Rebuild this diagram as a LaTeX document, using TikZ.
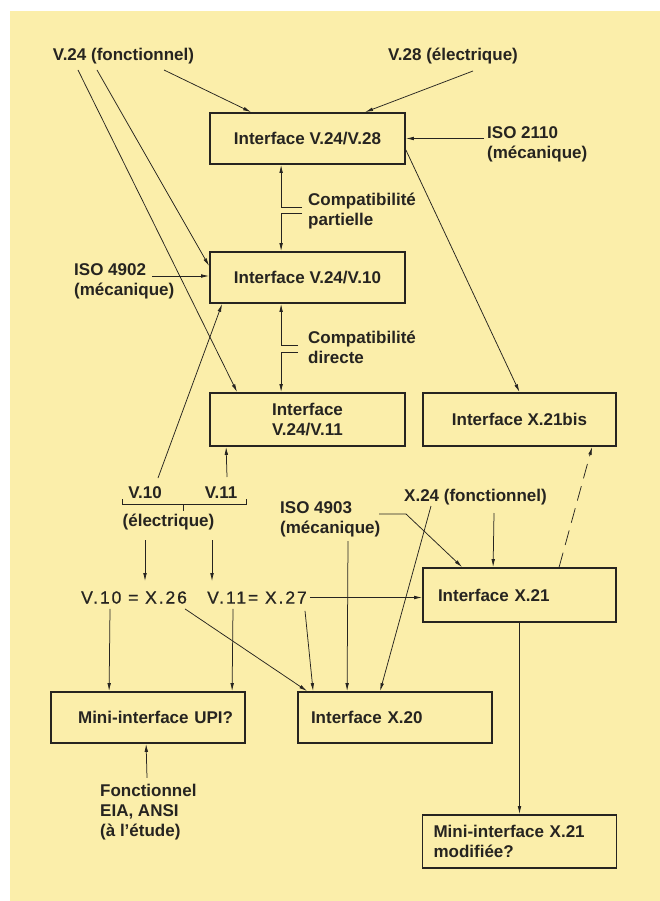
\documentclass[tikz,border=0pt]{standalone}
\usepackage{fontspec}
\setmainfont{Liberation Sans}
\newfontfamily\eqfont[LetterSpace=11,FakeBold=0.7]{Liberation Sans}
\usepackage{xcolor}
\usetikzlibrary{arrows.meta,positioning,calc}
\definecolor{paper}{RGB}{251,238,170}
\definecolor{ink}{RGB}{38,36,32}

\begin{document}
\begin{tikzpicture}[x=1pt,y=-1pt,color=ink,
  font=\fontsize{17}{20}\selectfont\bfseries,
  box/.style={draw,line width=1.8pt,minimum width=195pt,minimum height=51pt,inner sep=0pt,align=center},
  lbl/.style={inner sep=0pt,align=left},
  eqlbl/.style={inner sep=0pt,anchor=west,font=\eqfont\fontsize{17.5}{20}\selectfont},
  arr/.style={line width=0.75pt,-{Latex[length=8pt,width=3.6pt]}},
  lin/.style={line width=0.75pt}]
\useasboundingbox (0,0) rectangle (660,901);
\fill[paper] (10,11) rectangle (660,901);

\node[box] (b2428) at (307.5,138.5) {Interface V.24/V.28};
\node[box] (b2410) at (307.5,277.5) {Interface V.24/V.10};
\node[box,minimum height=53pt] (b2411) at (307.5,419.5) {Interface\\V.24/V.11};
\node[box,minimum width=193pt,minimum height=53pt] (bx21bis) at (519.5,419.5) {Interface X.21bis};
\node[box,minimum width=193pt,minimum height=54pt,text width=163pt,align=left] (bx21) at (519.5,595) {Interface X.21};
\node[box,minimum width=194pt,text width=168pt,align=left] (bx20) at (395,717.5) {Interface X.20};
\node[box,minimum width=194pt,text width=170pt,align=right] (bupi) at (148,717.5) {Mini-interface UPI?};
\node[box,minimum width=194pt,minimum height=53pt,text width=172pt,align=left] (bmini) at (519.5,841.5) {Mini-interface X.21\\modifiée?};

\node[lbl] (v24f) at (123.5,56) {V.24 (fonctionnel)};
\node[lbl] (v28e) at (453,56) {V.28 (électrique)};
\node[lbl,anchor=west] (iso2110) at (487,144) {ISO 2110\\(mécanique)};
\node[lbl,anchor=west] (compat1) at (308,211) {Compatibilité\\partielle};
\node[lbl,anchor=west] (iso4902) at (74,281) {ISO 4902\\(mécanique)};
\node[lbl,anchor=west] (compat2) at (308,347) {Compatibilité\\directe};
\node[lbl] (v10) at (145,493) {V.10};
\node[lbl] (v11) at (221,493) {V.11};
\node[lbl] (elec) at (168.5,522) {(électrique)};
\node[eqlbl] (eq1) at (81,597.5) {V.10 = X.26};
\node[eqlbl] (eq2) at (207,597.5) {V.11= X.27};
\node[lbl] (x24f) at (475.5,497) {X.24 (fonctionnel)};
\node[lbl,anchor=west] (iso4903) at (280,519) {ISO 4903\\(mécanique)};
\node[lbl,anchor=west] (fonct) at (100,812) {Fonctionnel\\EIA, ANSI\\(à l’étude)};

\draw[arr] ($(v24f)+(40.5,14)$) -- ($(b2428.north west)+(42,0)$);
\draw[arr] ($(v28e)+(20,15)$) -- ($(b2428.north west)+(156,0)$);
\draw[arr] ($(iso2110.west)+(-3,-5.5)$) -- (b2428.east);
\draw[arr] ($(v24f)+(-45.5,14)$) -- ($(b2411.north west)+(28,0)$);
\draw[arr] ($(v24f)+(-26.5,14)$) -- ($(b2410.west)+(0,-11.5)$);
\draw[arr] ($(b2428.east)+(0,11.5)$) -- (bx21bis.north);
\draw[arr] ($(compat1.west)+(-6,-4)$) -| ($(b2428.south west)+(72,0)$);
\draw[arr] ($(compat1.west)+(-6,2)$) -| ($(b2410.north west)+(72,0)$);
\draw[arr] ($(compat2.west)+(-10,-2)$) -| ($(b2410.south west)+(72,0)$);
\draw[arr] ($(compat2.west)+(-10,5)$) -| ($(b2411.north west)+(72,0)$);
\draw[arr] ($(iso4902.west)+(78,-5)$) -- ($(b2410.west)+(0,-1.5)$);
\draw[arr] ($(v10)+(13,-15)$) -- ($(b2410.south west)+(13,0)$);
\draw[arr] ($(v11)+(6,-16)$) -- ($(b2411.south west)+(17,0)$);
\draw[arr,dash pattern=on 15pt off 8pt] ($(bx21.north west)+(137,0)$) -- ($(bx21bis.south west)+(170,0)$);
\draw[lin] ($(v10)+(-23,6)$) |- ($(v11)+(25,11)$) -- ($(v11)+(25,6)$);
\draw[lin] ($(v10)!0.5!(v11)+(0,11)$) -- ($(v10)!0.5!(v11)+(0,18)$);
\draw[arr] ($(elec)+(-23.5,18)$) -- ($(eq1.north west)+(64,-10)$);
\draw[arr] ($(elec)+(43.5,18)$) -- ($(eq2.north west)+(5,-10)$);
\draw[arr] ($(eq2.east)+(3,0)$) -- (bx21.west |- eq2.east);
\draw[arr] ($(eq1.south west)+(29,5)$) -- ($(bupi.north west)+(59,0)$);
\draw[arr] ($(eq2.south west)+(26,5)$) -- ($(bupi.north west)+(182,0)$);
\draw[arr] ($(eq1.south west)+(104,5)$) -- ($(bx20.north west)+(10,0)$);
\draw[arr] ($(eq2.south west)+(98,7)$) -- ($(bx20.north west)+(16,0)$);
\draw[arr] ($(iso4903.west)+(68,22)$) -- ($(bx20.north west)+(50,0)$);
\draw[arr] ($(x24f)+(-44.5,9)$) -- ($(bx20.north west)+(83,0)$);
\draw[arr] ($(iso4903.west)+(99,-5)$) -- ($(iso4903.west)+(126,-5)$) -- ($(bx21.north west)+(40,0)$);
\draw[arr] ($(x24f)+(18.5,16)$) -- ($(bx21.north west)+(71,0)$);
\draw[arr] (bx21.south) -- (bmini.north);
\draw[arr] ($(fonct.north west)+(47,-6)$) -- ($(bupi.south west)+(96,0)$);
\end{tikzpicture}
\end{document}
